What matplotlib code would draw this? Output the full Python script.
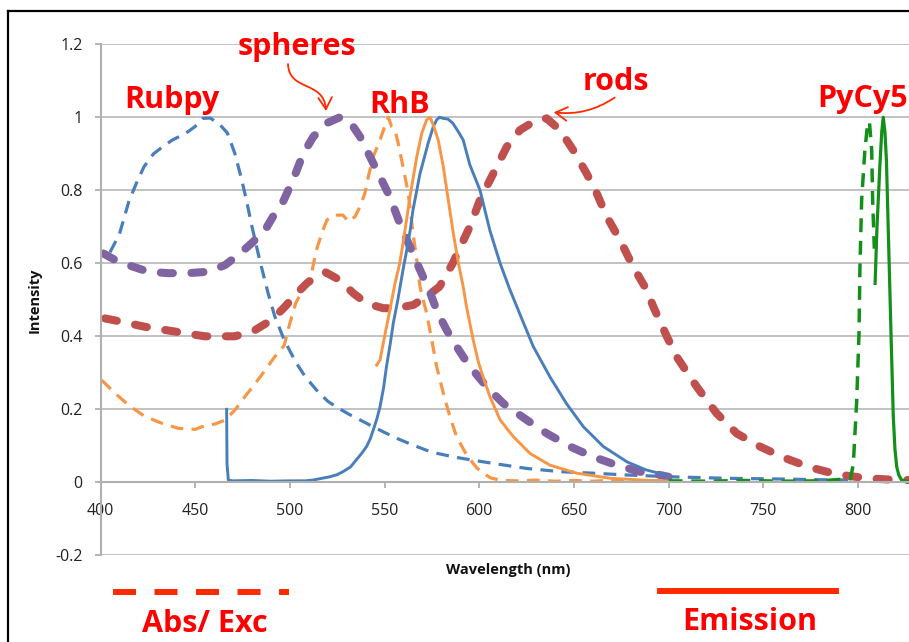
import numpy as np
import matplotlib
matplotlib.use('Agg')
import matplotlib.pyplot as plt
from matplotlib.lines import Line2D
from matplotlib.patches import FancyArrowPatch
from matplotlib.path import Path

# ---- data (wavelength nm, normalised intensity) ----
rubpy_abs_nm = [405, 410, 415, 419, 423, 428, 433, 438, 445, 450, 454, 458, 463, 467, 471, 474.5,
                477, 480, 484, 488.5, 492, 497, 503, 508, 514, 520, 525, 531, 537, 544, 551, 558,
                565, 572, 578, 587, 595, 607, 625, 643, 660, 678, 702, 730, 760, 780, 800]
rubpy_abs = [0.63, 0.68, 0.77, 0.82, 0.865, 0.90, 0.92, 0.938, 0.956, 0.975, 0.997, 0.998, 0.98,
             0.957, 0.90, 0.83, 0.774, 0.70, 0.61, 0.518, 0.455, 0.39, 0.33, 0.29, 0.253, 0.222,
             0.205, 0.187, 0.171, 0.152, 0.134, 0.117, 0.102, 0.088, 0.079, 0.069, 0.062, 0.052,
             0.038, 0.029, 0.025, 0.02, 0.015, 0.011, 0.009, 0.007, 0.006]

rubpy_em_nm = [466.6, 466.8, 467.5, 470, 480, 490, 500, 508, 512, 516, 521, 525, 528, 532, 535, 538,
               540.5, 542.5, 544, 546, 547.6, 549.5, 551, 553, 554.6, 557, 558, 560, 561.7, 563.5,
               565, 567, 568.7, 571, 573, 575.7, 577.5, 579, 581, 583.5, 586, 589, 591.5, 595,
               600.4, 605.6, 611, 616, 621.5, 628.5, 637.3, 646, 655, 665.5, 678, 688, 700]
rubpy_em = [0.2, 0.05, 0.006, 0.004, 0.005, 0.003, 0.004, 0.004, 0.006, 0.01, 0.015, 0.021, 0.029,
            0.042, 0.061, 0.08, 0.098, 0.12, 0.143, 0.175, 0.207, 0.26, 0.317, 0.38, 0.436, 0.50,
            0.53, 0.59, 0.636, 0.69, 0.746, 0.80, 0.846, 0.89, 0.929, 0.974, 0.993, 1.0, 0.997,
            0.995, 0.984, 0.96, 0.938, 0.87, 0.80, 0.69, 0.60, 0.53, 0.46, 0.372, 0.289, 0.216,
            0.152, 0.098, 0.056, 0.034, 0.018]

rhb_abs_nm = [400.6, 407.7, 414.7, 423.5, 432.3, 441, 450, 453.4, 460.5, 465.7, 471, 476.3, 481.6,
              486.9, 492, 497, 500, 503, 508, 511.5, 514, 516.8, 519.5, 523, 528, 531, 534.4, 537,
              539.6, 541.4, 544, 547.6, 550, 552, 553.7, 555.5, 557.2, 559, 560.8, 562.5, 564, 565,
              567, 568.7, 570.4, 572.2, 574.9, 577.5, 581, 584.5, 588, 593.3, 598.6, 602, 606, 612,
              620, 630, 640, 650, 660, 670, 680, 690, 700]
rhb_abs = [0.28, 0.244, 0.212, 0.18, 0.162, 0.148, 0.145, 0.152, 0.16, 0.17, 0.198, 0.235, 0.27,
           0.307, 0.344, 0.375, 0.436, 0.49, 0.54, 0.575, 0.636, 0.682, 0.718, 0.732, 0.732, 0.714,
           0.728, 0.755, 0.792, 0.837, 0.892, 0.938, 0.974, 1.0, 0.974, 0.965, 0.929, 0.883, 0.837,
           0.792, 0.728, 0.682, 0.609, 0.536, 0.50, 0.463, 0.39, 0.317, 0.244, 0.18, 0.125, 0.075,
           0.04, 0.025, 0.012, 0.005, 0.004, 0.006, 0.003, 0.005, 0.003, 0.006, 0.003, 0.005, 0.003]

rhb_em_nm = [545.8, 547.6, 550, 552.8, 555.5, 558, 560, 563.4, 567, 569.6, 572.2, 574, 575.7, 578.3,
             581, 583.6, 586.3, 589, 591.5, 593.3, 596.8, 599.5, 601.3, 605.6, 611, 618, 626.8,
             637.3, 651.4, 669, 686.6, 700]
rhb_em = [0.321, 0.335, 0.40, 0.472, 0.545, 0.60, 0.664, 0.782, 0.892, 0.956, 0.993, 1.0, 0.979,
          0.938, 0.865, 0.774, 0.682, 0.60, 0.536, 0.48, 0.39, 0.33, 0.30, 0.235, 0.171, 0.125,
          0.079, 0.047, 0.025, 0.011, 0.006, 0.003]

spheres_nm = [401.5, 407.7, 414.7, 425.2, 435.8, 446.4, 456.9, 465.7, 472.8, 479.8, 486.9, 492.1,
              496.5, 501.8, 507, 512.4, 519.4, 526.4, 531.7, 537, 542.3, 547.6, 552.8, 558, 563.4,
              568.7, 574, 578, 582.8, 588, 593.3, 598.6, 603.9, 612.7, 625, 635.6, 647.9, 660,
              672.5, 684.8, 695.4, 700]
spheres = [0.627, 0.609, 0.595, 0.577, 0.573, 0.573, 0.577, 0.595, 0.623, 0.655, 0.691, 0.737,
           0.77, 0.83, 0.90, 0.947, 0.984, 1.0, 0.988, 0.947, 0.892, 0.837, 0.782, 0.71, 0.645,
           0.582, 0.52, 0.465, 0.417, 0.372, 0.33, 0.295, 0.262, 0.216, 0.171, 0.134, 0.098, 0.07,
           0.047, 0.029, 0.02, 0.015]

rods_nm = [402.4, 411, 423.5, 439.3, 455, 471, 481.6, 490.4, 497.4, 502, 508.9, 514, 519, 526,
           533.5, 540.5, 549.3, 556.4, 565.2, 572.2, 579, 586, 590, 595, 600.4, 607.4, 614.5, 621.5,
           630.3, 635.6, 642.6, 649.6, 656.7, 662, 667.3, 674.3, 681.3, 688.4, 691.9, 699, 704.2,
           714.8, 725.3, 735.9, 748.2, 760.5, 774.6, 788.7, 804.5, 815, 827]
rods = [0.449, 0.44, 0.426, 0.413, 0.40, 0.40, 0.417, 0.445, 0.481, 0.509, 0.545, 0.565, 0.575,
        0.555, 0.518, 0.49, 0.477, 0.477, 0.486, 0.509, 0.536, 0.60, 0.645, 0.70, 0.774, 0.846,
        0.919, 0.965, 0.993, 0.997, 0.965, 0.91, 0.846, 0.792, 0.728, 0.664, 0.59, 0.527, 0.481,
        0.40, 0.344, 0.262, 0.189, 0.134, 0.098, 0.068, 0.041, 0.022, 0.011, 0.008, 0.006]

pycy5_abs_nm = [700, 720, 740, 760, 780, 796, 797.5, 799.3, 800.5, 801, 801.9, 803.6, 804.9, 806,
                807.2, 807.7, 808.6]
pycy5_abs = [0.004, 0.003, 0.005, 0.003, 0.004, 0.01, 0.05, 0.225, 0.408, 0.59, 0.774, 0.91, 0.974,
             0.988, 0.91, 0.774, 0.64]

pycy5_em_nm = [809, 810, 811.5, 812.5, 813.3, 814.2, 815, 816, 817.4, 818.6, 819.5, 820.4, 821.5,
               823, 827]
pycy5_em = [0.545, 0.70, 0.865, 0.96, 1.0, 0.96, 0.88, 0.682, 0.408, 0.18, 0.09, 0.043, 0.02,
            0.006, 0.002]

x_ticks = [400, 450, 500, 550, 600, 650, 700, 750, 800]
y_ticks = [-0.2, 0, 0.2, 0.4, 0.6, 0.8, 1.0, 1.2]
y_tick_labels = ['-0.2', '0', '0.2', '0.4', '0.6', '0.8', '1', '1.2']

# ---- figure ----
W, H = 909, 642
plt.rcParams['font.family'] = ['Open Sans', 'DejaVu Sans']
fig = plt.figure(figsize=(W / 100, H / 100), dpi=100)


def px(x, y):
    # image pixel -> figure fraction
    return x / W, 1 - y / H


ax = fig.add_axes([100.5 / W, 1 - 555.3 / H, 1 - 100.5 / W, (555.3 - 44.3) / H])
ax.set_xlim(400, 826.9)
ax.set_ylim(-0.2, 1.2)

blue, orange, purple, red, green = '#4a7ebb', '#f79646', '#8064a2', '#c0504d', '#12901a'
thin_dash = (4, 2.6)
thick_dash = (1.5, 2.3)

ax.plot(rubpy_abs_nm, rubpy_abs, color=blue, lw=2.3, dashes=thin_dash)
ax.plot(rhb_abs_nm, rhb_abs, color=orange, lw=2.3, dashes=thin_dash)
ax.plot(rods_nm, rods, color=red, lw=5.8, dashes=thick_dash, dash_capstyle='round')
ax.plot(spheres_nm, spheres, color=purple, lw=5.8, dashes=thick_dash, dash_capstyle='round')
ax.plot(rubpy_em_nm, rubpy_em, color=blue, lw=2.1)
ax.plot(rhb_em_nm, rhb_em, color=orange, lw=2.1)
ax.plot(pycy5_abs_nm, pycy5_abs, color=green, lw=2.5, dashes=(4, 2.5))
ax.plot(pycy5_em_nm, pycy5_em, color=green, lw=2.3)

# excel style axes: horizontal axis crosses at 0
ax.grid(axis='y', color='#bdbdbd', lw=1.3)
ax.set_axisbelow(True)
for s in ['top', 'right']:
    ax.spines[s].set_visible(False)
ax.spines['left'].set_color('#b0b0b0')
ax.spines['left'].set_linewidth(1.5)
ax.spines['bottom'].set_position(('data', 0))
ax.spines['bottom'].set_color('#b0b0b0')
ax.spines['bottom'].set_linewidth(1.5)
ax.set_xticks(x_ticks)
ax.set_yticks(y_ticks)
ax.set_yticklabels(y_tick_labels)
ax.tick_params(axis='both', colors='#b0b0b0', labelcolor='#222222', labelsize=11.5,
               length=4, width=1.3)
ax.tick_params(axis='x', pad=11)
ax.tick_params(axis='y', pad=9)

fig.text(*px(35, 300), 'Intensity', rotation=90, ha='center', va='center',
         fontsize=10.5, fontweight='bold', color='#111111')
fig.text(*px(508, 570), 'Wavelength (nm)', ha='center', va='center',
         fontsize=10.5, fontweight='bold', color='#111111')

# ---- red annotations ----
lab_red = '#ff0000'
for txt, x, y in [('spheres', 297, 55), ('Rubpy', 172, 108), ('RhB', 400, 113),
                  ('rods', 616, 90), ('PyCy5', 863, 107), ('Abs/ Exc', 205, 632),
                  ('Emission', 750, 630)]:
    fig.text(*px(x, y), txt, ha='center', va='baseline', fontsize=22,
             fontweight='bold', color=lab_red)

line_red = '#ff2a00'
x0, y0 = px(113, 592)
x1, y1 = px(289, 592)
fig.add_artist(Line2D([x0, x1], [y0, y1], transform=fig.transFigure, color=line_red,
                      lw=4.3, dashes=(3.85, 3.1)))
x0, y0 = px(660, 591)
x1, y1 = px(836, 591)
fig.add_artist(Line2D([x0, x1], [y0, y1], transform=fig.transFigure, color=line_red, lw=4.3))

# curved arrows (the spheres one is a small s-bend)
s_path = Path([px(288, 64), px(289, 92), px(324, 80), px(326, 111)],
              [Path.MOVETO, Path.CURVE4, Path.CURVE4, Path.CURVE4])
fig.add_artist(FancyArrowPatch(path=s_path, transform=fig.transFigure, color=line_red, lw=1.3,
                               arrowstyle='->,head_length=0.6,head_width=0.35', mutation_scale=14))
fig.add_artist(FancyArrowPatch(px(617, 96), px(551, 112), transform=fig.transFigure,
                               connectionstyle='arc3,rad=-0.2', color=line_red, lw=1.3,
                               arrowstyle='->,head_length=0.6,head_width=0.35', mutation_scale=14))

# frame of the original slide (left and top edges visible)
fig.add_artist(Line2D([8 / W, 8 / W], [0, 1 - 11 / H], transform=fig.transFigure,
                      color='black', lw=1.6))
fig.add_artist(Line2D([8 / W, 1], [1 - 11 / H, 1 - 11 / H], transform=fig.transFigure,
                      color='black', lw=1.6))

fig.savefig('out.png', dpi=100)
